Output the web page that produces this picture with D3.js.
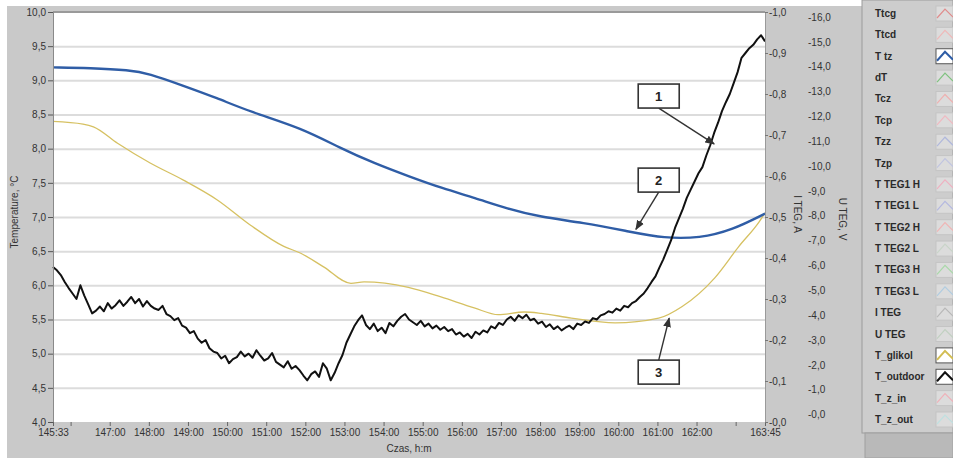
<!DOCTYPE html>
<html>
<head>
<meta charset="utf-8">
<script src="https://cdn.jsdelivr.net/npm/d3@7"></script>
<style>
  body { margin: 0; background: #fff; }
  svg { display: block; font-family: "Liberation Sans", Arial, sans-serif; }
</style>
</head>
<body>
<svg id="chart" width="953" height="458"></svg>
<script>
// --- data (time as h:mm on the 145:33 .. 163:45 span) ---
const ttzTime = ["145:33","146:30","147:30","148:00","148:50","149:45","150:35","151:55","152:55","153:45","154:40",
  "155:30","156:20","157:10","158:00","159:05","160:20","161:10","162:05","162:55","163:45"];
const ttzValues = [9.19,9.18,9.15,9.10,8.93,8.74,8.54,8.30,8.00,7.79,7.59,
  7.42,7.28,7.12,7.00,6.92,6.78,6.69,6.69,6.81,7.05];

const glikolTime = ["145:33","146:19","146:35","147:12","148:02","148:53","149:45","150:36","151:27","151:53","152:28",
  "153:10","153:30","154:38","155:28","156:19","156:56","157:36","158:02","158:48","159:55","161:02","161:38",
  "162:28","163:05","163:36","163:45"];
const glikolValues = [8.40,8.36,8.32,8.08,7.79,7.54,7.25,6.88,6.57,6.47,6.27,
  6.03,6.05,5.97,5.83,5.67,5.57,5.61,5.59,5.52,5.45,5.52,5.69,
  6.11,6.57,6.93,7.06];

const outdoorTime = [
  "145:33","145:39","145:45","145:51","145:57",
  "146:03","146:09","146:15","146:21","146:27","146:33","146:39","146:45","146:51","146:57",
  "147:03","147:09","147:15","147:21","147:27","147:33","147:39","147:45","147:51","147:57",
  "148:03","148:09","148:15","148:21","148:27","148:33","148:39","148:45","148:51","148:57",
  "149:03","149:09","149:15","149:21","149:27","149:33","149:39","149:45","149:51","149:57",
  "150:03","150:09","150:15","150:21","150:27","150:33","150:39","150:45","150:51","150:57",
  "151:03","151:09","151:15","151:21","151:27","151:33","151:39","151:45","151:51","151:57",
  "152:03","152:09","152:15","152:21","152:27","152:33","152:39","152:45","152:51","152:57",
  "153:03","153:09","153:15","153:21","153:27","153:33","153:39","153:45","153:51","153:57",
  "154:03","154:09","154:15","154:21","154:27","154:33","154:39","154:45","154:51","154:57",
  "155:03","155:09","155:15","155:21","155:27","155:33","155:39","155:45","155:51","155:57",
  "156:03","156:09","156:15","156:21","156:27","156:33","156:39","156:45","156:51","156:57",
  "157:03","157:09","157:15","157:21","157:27","157:33","157:39","157:45","157:51","157:57",
  "158:03","158:09","158:15","158:21","158:27","158:33","158:39","158:45","158:51","158:57",
  "159:03","159:09","159:15","159:21","159:27","159:33","159:39","159:45","159:51","159:57",
  "160:03","160:09","160:15","160:21","160:27","160:33","160:39","160:45","160:51","160:57",
  "161:03","161:09","161:15","161:21","161:27","161:33","161:39","161:45","161:51","161:57",
  "162:03","162:09","162:15","162:21","162:27","162:33","162:39","162:45","162:51","162:57",
  "163:03","163:09","163:15","163:21","163:27","163:33","163:39","163:45"];
const outdoorValues = [
  6.27,6.22,6.15,6.05,5.96,5.88,5.80,6.00,5.85,5.72,
  5.59,5.63,5.69,5.62,5.74,5.66,5.71,5.78,5.70,5.76,
  5.83,5.74,5.80,5.69,5.77,5.70,5.66,5.64,5.70,5.58,
  5.55,5.49,5.52,5.41,5.38,5.30,5.33,5.22,5.16,5.20,
  5.08,5.03,5.01,4.93,4.97,4.86,4.92,4.95,5.03,4.96,
  5.00,4.94,5.05,4.97,4.90,4.93,5.01,4.88,4.84,4.80,
  4.89,4.78,4.82,4.76,4.68,4.61,4.70,4.74,4.66,4.86,
  4.78,4.61,4.72,4.86,4.98,5.16,5.28,5.40,5.49,5.56,
  5.42,5.36,5.44,5.33,5.38,5.30,5.45,5.40,5.48,5.54,
  5.58,5.50,5.46,5.42,5.48,5.40,5.44,5.37,5.41,5.35,
  5.39,5.33,5.36,5.28,5.31,5.25,5.29,5.23,5.32,5.28,
  5.34,5.31,5.40,5.37,5.45,5.42,5.50,5.54,5.48,5.56,
  5.52,5.57,5.49,5.51,5.44,5.47,5.39,5.43,5.36,5.40,
  5.34,5.38,5.41,5.36,5.44,5.42,5.47,5.45,5.52,5.50,
  5.56,5.58,5.62,5.60,5.66,5.63,5.70,5.68,5.74,5.77,
  5.83,5.88,5.96,6.05,6.13,6.26,6.38,6.52,6.66,6.84,
  6.98,7.12,7.28,7.40,7.52,7.64,7.73,7.90,8.05,8.23,
  8.38,8.55,8.68,8.80,8.96,9.12,9.33,9.40,9.47,9.52,
  9.60,9.66,9.57];

// axis ticks
const timeTicks = ["145:33","146:00","147:00","148:00","149:00","150:00","151:00","152:00","153:00","154:00",
  "155:00","156:00","157:00","158:00","159:00","160:00","161:00","162:00","163:00","163:45"];
const timeUnlabeled = ["146:00","163:00"];
const tempTicks = [4.0,4.5,5.0,5.5,6.0,6.5,7.0,7.5,8.0,8.5,9.0,9.5,10.0];
const currentTicks = [0,-0.1,-0.2,-0.3,-0.4,-0.5,-0.6,-0.7,-0.8,-0.9,-1.0];
const voltageTicks = [0,-1,-2,-3,-4,-5,-6,-7,-8,-9,-10,-11,-12,-13,-14,-15,-16];

// legend of the LabVIEW plot
const legendNames = ["Ttcg","Ttcd","T tz","dT","Tcz","Tcp","Tzz","Tzp","T TEG1 H","T TEG1 L","T TEG2 H",
  "T TEG2 L","T TEG3 H","T TEG3 L","I TEG","U TEG","T_glikol","T_outdoor","T_z_in","T_z_out"];
const legendColors = ["#e08c8c","#efb8b8","#2f5da6","#7fc27f","#efb0b0","#f0b8c0","#b0b8dc","#c0c4e0","#efb0c0","#b4b8e0","#f0b4b4",
  "#c8d4c8","#a8d8a8","#b0cce0","#b8b8b8","#c0d0c0","#d2bd52","#111111","#efb0b8","#bfe0e0"];
const legendActive = ["T tz","T_glikol","T_outdoor"];

// callouts 1..3 (box centre and arrow tip, in data units)
const notes = [
  { label: "1", at: ["161:02", 8.77], tip: ["162:27", 8.07] },
  { label: "2", at: ["161:02", 7.54], tip: ["160:27", 6.82] },
  { label: "3", at: ["161:02", 4.73], tip: ["161:18", 5.52] }
];

const toMin = s => { const p = s.split(":").map(Number); return p[0] * 60 + p[1]; };
const fmtTime = m => Math.floor(m / 60) + ":" + String(m % 60).padStart(2, "0");
const comma = (v, n) => v.toFixed(n).replace(".", ",");
const neg = v => "-" + comma(Math.abs(v), 1);

const plotL = 53, plotR = 765, plotT = 12, plotB = 422;

const svg = d3.select("#chart");

// backgrounds
svg.append("rect").attr("width", 953).attr("height", 458).attr("fill", "#ffffff");
svg.append("rect").attr("x", 7).attr("y", 6).attr("width", 946).attr("height", 452).attr("fill", "#c9c9c9");
svg.append("rect").attr("x", plotL).attr("y", plotT).attr("width", plotR - plotL).attr("height", plotB - plotT)
  .attr("fill", "#ffffff");

const x = d3.scaleLinear().domain([toMin("145:33"), toMin("163:45")]).range([plotL, plotR]);
const yT = d3.scaleLinear().domain([4, 10]).range([plotB, plotT]);
const yI = d3.scaleLinear().domain([0, -1]).range([plotB, plotT]);
const yU = d3.scaleLinear().domain([0.3, -16.2]).range([plotB, plotT]);

// gridlines
svg.append("g")
  .attr("transform", `translate(${plotL},0)`)
  .call(d3.axisLeft(yT).tickValues(tempTicks.slice(1, -1)).tickSize(-(plotR - plotL)).tickFormat(""))
  .call(g => g.select(".domain").remove())
  .call(g => g.selectAll("line").attr("stroke", "#dcdcdc").attr("stroke-width", 2));

// plot frame
svg.append("line").attr("x1", plotL).attr("x2", plotR).attr("y1", plotT).attr("y2", plotT)
  .attr("stroke", "#9a9a9a").attr("stroke-width", 2);

// series
const line = (times, vals, curve) => d3.line()
  .x((d, i) => x(toMin(times[i])))
  .y(d => yT(d))
  .curve(curve)(vals);

svg.append("path").attr("d", line(glikolTime, glikolValues, d3.curveMonotoneX))
  .attr("fill", "none").attr("stroke", "#d6c162").attr("stroke-width", 1.3);
svg.append("path").attr("d", line(ttzTime, ttzValues, d3.curveBasis))
  .attr("fill", "none").attr("stroke", "#2f5da6").attr("stroke-width", 2.4);
svg.append("path").attr("d", line(outdoorTime, outdoorValues, d3.curveLinear))
  .attr("fill", "none").attr("stroke", "#111111").attr("stroke-width", 2).attr("stroke-linejoin", "round");

// left axis
svg.append("g")
  .attr("transform", `translate(${plotL},0)`)
  .call(d3.axisLeft(yT).tickValues(tempTicks).tickSize(5).tickPadding(2).tickFormat(d => comma(d, 1)))
  .call(g => g.select(".domain").attr("stroke", "#8a8a8a"))
  .call(g => g.selectAll("line").attr("stroke", "#555"))
  .call(g => g.selectAll("text").attr("fill", "#333").attr("font-size", 10).attr("font-family", null));

// bottom axis
svg.append("g")
  .attr("transform", `translate(0,${plotB})`)
  .call(d3.axisBottom(x).tickValues(timeTicks.map(toMin)).tickSize(4).tickPadding(3)
    .tickFormat(d => timeUnlabeled.includes(fmtTime(d)) ? "" : fmtTime(d)))
  .call(g => g.select(".domain").remove())
  .call(g => g.selectAll("line").attr("stroke", "#666"))
  .call(g => g.selectAll("text").attr("fill", "#333").attr("font-size", 10).attr("font-family", null));

// right axis: I TEG
svg.append("g")
  .attr("transform", `translate(${plotR},0)`)
  .call(d3.axisRight(yI).tickValues(currentTicks).tickSize(3).tickPadding(1).tickFormat(neg))
  .call(g => g.select(".domain").attr("stroke", "#9a9a9a"))
  .call(g => g.selectAll("line").attr("stroke", "#777"))
  .call(g => g.selectAll("text").attr("fill", "#333").attr("font-size", 10).attr("font-family", null));

// right axis: U TEG
svg.append("g")
  .attr("transform", "translate(805,0)")
  .call(d3.axisRight(yU).tickValues(voltageTicks).tickSize(0).tickPadding(3).tickFormat(neg))
  .call(g => g.select(".domain").remove())
  .call(g => g.selectAll("text").attr("fill", "#333").attr("font-size", 10).attr("font-family", null));

// axis titles
svg.append("text").attr("transform", "translate(18,212) rotate(-90)").attr("text-anchor", "middle")
  .attr("font-size", 10).attr("fill", "#333").text("Temperature, °C");
svg.append("text").attr("x", (plotL + plotR) / 2).attr("y", 452).attr("text-anchor", "middle")
  .attr("font-size", 10).attr("fill", "#333").text("Czas, h:m");
svg.append("text").attr("transform", "translate(794,214) rotate(90)").attr("text-anchor", "middle")
  .attr("font-size", 10).attr("fill", "#333").text("I TEG, A");
svg.append("text").attr("transform", "translate(839,219) rotate(90)").attr("text-anchor", "middle")
  .attr("font-size", 10).attr("fill", "#333").text("U TEG, V");

// callouts
svg.append("defs").append("marker")
  .attr("id", "arrow").attr("viewBox", "0 0 10 10").attr("refX", 9).attr("refY", 5)
  .attr("markerWidth", 7).attr("markerHeight", 7).attr("orient", "auto")
  .append("path").attr("d", "M0,1 L10,5 L0,9 Z").attr("fill", "#333");

const boxW = 41, boxH = 24;
notes.forEach(n => {
  const cx = x(toMin(n.at[0])), cy = yT(n.at[1]);
  const tx = x(toMin(n.tip[0])), ty = yT(n.tip[1]);
  const sy = cy + Math.sign(ty - cy) * boxH / 2;
  svg.append("line").attr("x1", cx).attr("y1", sy).attr("x2", tx).attr("y2", ty)
    .attr("stroke", "#333").attr("stroke-width", 1.4).attr("marker-end", "url(#arrow)");
  svg.append("rect").attr("x", cx - boxW / 2).attr("y", cy - boxH / 2).attr("width", boxW).attr("height", boxH)
    .attr("fill", "#fff").attr("stroke", "#333").attr("stroke-width", 1.6);
  svg.append("text").attr("x", cx).attr("y", cy + 5).attr("text-anchor", "middle")
    .attr("font-size", 13).attr("font-weight", "bold").attr("fill", "#222").text(n.label);
});

// legend panel
svg.append("rect").attr("x", 862).attr("y", 0).attr("width", 91).attr("height", 433)
  .attr("fill", "#cdcdcd").attr("stroke", "#9c9c9c");
svg.append("rect").attr("x", 865).attr("y", 433).attr("width", 88).attr("height", 25)
  .attr("fill", "#b9b9b9").attr("stroke", "#a0a0a0");

const ly = d3.scalePoint().domain(legendNames).range([13, 419]);
const items = svg.append("g").selectAll("g").data(legendNames).join("g")
  .attr("transform", d => `translate(0,${ly(d)})`);
items.append("text").attr("x", 875).attr("y", 4).attr("font-size", 10).attr("font-weight", "bold")
  .attr("fill", "#2a2a2a").text(d => d);
items.append("rect").attr("x", 936).attr("y", -7).attr("width", 17).attr("height", 15)
  .attr("fill", d => legendActive.includes(d) ? "#ffffff" : "#dcdcdc")
  .attr("stroke", d => legendActive.includes(d) ? "#555" : "#c4c4c4").attr("stroke-width", 1);
items.append("path").attr("d", "M937,5 L945,-4 L953,4")
  .attr("fill", "none")
  .attr("stroke", (d, i) => legendColors[i])
  .attr("stroke-width", d => legendActive.includes(d) ? 2 : 1.2);
</script>
</body>
</html>
